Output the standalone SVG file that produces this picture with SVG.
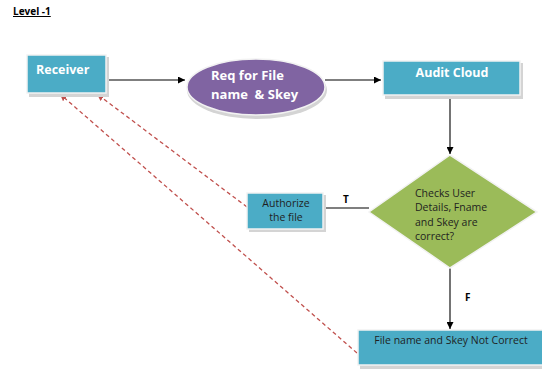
<svg xmlns="http://www.w3.org/2000/svg" width="542" height="373" viewBox="0 0 542 373">
  <defs>
    <marker id="arrow" viewBox="0 0 10 10" refX="10" refY="5" markerWidth="7" markerHeight="7" markerUnits="userSpaceOnUse" orient="auto">
      <path d="M0,0 L10,5 L0,10 z" fill="#000"/>
    </marker>
    <marker id="arrowRed" viewBox="0 0 10 10" refX="10" refY="5" markerWidth="7" markerHeight="7" markerUnits="userSpaceOnUse" orient="auto">
      <path d="M0,0 L10,5 L0,10 z" fill="#c0504d"/>
    </marker>
  </defs>
  <style>
    text { font-family: "Open Sans", "Noto Sans", "Liberation Sans", sans-serif; }
    .shadow { fill: #d4d4d4; }
    .box { fill: #4bacc6; stroke: #f2f2f2; stroke-width: 1.5; }
    .white { fill: #ffffff; font-weight: bold; font-size: 12.5px; }
    .big { font-size: 13px; }
    .dark { fill: #1f1f1f; font-size: 10.5px; }
    .flow { stroke: #000; stroke-width: 1.1; fill: none; }
    .back { stroke: #c0504d; stroke-width: 1.3; stroke-dasharray: 4 3; fill: none; }
    .lbl { fill: #000; font-weight: bold; font-size: 10px; }
  </style>
  <rect width="542" height="373" fill="#ffffff"/>

  <text x="13" y="15" class="lbl" text-decoration="underline">Level -1</text>

  <g id="connectors">
    <line class="flow" x1="107" y1="80" x2="185" y2="80" marker-end="url(#arrow)"/>
    <line class="flow" x1="325" y1="80" x2="381" y2="80" marker-end="url(#arrow)"/>
    <line class="flow" x1="450" y1="97" x2="450" y2="154" marker-end="url(#arrow)"/>
    <line class="flow" x1="326" y1="208" x2="369" y2="208"/>
    <line class="flow" x1="450" y1="268" x2="450" y2="329" marker-end="url(#arrow)"/>
    <line class="back" x1="247" y1="207" x2="97" y2="94" marker-end="url(#arrowRed)"/>
    <line class="back" x1="357" y1="353" x2="60" y2="94" marker-end="url(#arrowRed)"/>
    <text x="343" y="203" class="lbl">T</text>
    <text x="465" y="301" class="lbl">F</text>
  </g>

  <g id="receiver">
    <rect class="shadow" x="29" y="57" width="80" height="40"/>
    <rect class="box" x="27" y="55" width="79" height="38"/>
    <text x="36" y="74" class="white">Receiver</text>
  </g>

  <g id="request">
    <ellipse cx="257" cy="90" rx="70" ry="29" fill="#d4d4d4"/>
    <ellipse cx="256" cy="87" rx="69" ry="28" fill="#8064a2" stroke="#f2f2f2" stroke-width="1.5"/>
    <text x="211" y="80" class="white big">Req for File</text>
    <text x="211" y="99" class="white big" xml:space="preserve">name  &amp; Skey</text>
  </g>

  <g id="audit-cloud">
    <rect class="shadow" x="385" y="63" width="138" height="36"/>
    <rect class="box" x="383" y="61" width="137" height="34"/>
    <text x="452" y="77" class="white" text-anchor="middle">Audit Cloud</text>
  </g>

  <g id="check">
    <polygon points="450,155 537,212 450,268 369,212" fill="#9bbb59" stroke="#f2f2f2" stroke-width="1.5"/>
    <text class="dark" x="415" y="197">Checks User</text>
    <text class="dark" x="415" y="211">Details, Fname</text>
    <text class="dark" x="415" y="226">and Skey are</text>
    <text class="dark" x="415" y="240">correct?</text>
  </g>

  <g id="authorize">
    <rect class="shadow" x="249" y="195" width="77" height="37"/>
    <rect class="box" x="247" y="193" width="76" height="36"/>
    <text class="dark" x="286" y="207" text-anchor="middle">Authorize</text>
    <text class="dark" x="286" y="221" text-anchor="middle">the file</text>
  </g>

  <g id="not-correct">
    <rect class="shadow" x="360" y="333" width="184" height="36"/>
    <rect class="box" x="358" y="330" width="186" height="35"/>
    <text class="dark" x="451" y="344" text-anchor="middle">File name and Skey Not Correct</text>
  </g>
</svg>
